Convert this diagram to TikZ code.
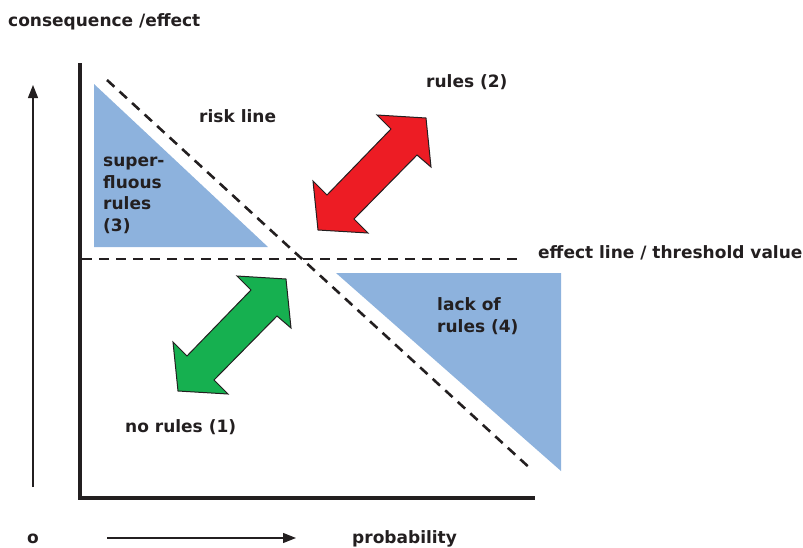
\documentclass[tikz,border=0pt]{standalone}
\usepackage{fontspec}
\setmainfont{DejaVu Sans}
\usepackage{tikz}
\usetikzlibrary{arrows.meta}

\definecolor{rulered}{RGB}{237,28,36}
\definecolor{rulegreen}{RGB}{22,176,80}
\definecolor{zoneblue}{RGB}{141,178,221}
\definecolor{inkgray}{RGB}{35,31,32}

\tikzset{
  lbl/.style={text=inkgray,font=\fontsize{17}{21.5}\selectfont\bfseries,inner sep=0pt,align=left},
  dashline/.style={draw=inkgray,line width=2.6pt,dash pattern=on 10pt off 7pt},
  zone/.style={fill=zoneblue,draw=none},
  bigarrow/.style={draw=inkgray,line width=1pt,line join=miter},
  thinarrow/.style={draw=inkgray,line width=1.3pt,-{Triangle[length=13pt,width=10pt]}}
}

% shape of the double arrow (pixel coords)
\newcommand{\dblarrow}{(178,391) -- (173,342) -- (187,356) -- (251,290) -- (237,276)
  -- (286,279) -- (291,328) -- (277,316) -- (214,380) -- (228,394) -- cycle}

\begin{document}
\begin{tikzpicture}[x=1pt,y=-1pt]
  \useasboundingbox (0,0) rectangle (803,547);

  % zones
  \fill[zone] (94,84) -- (94,247) -- (268,247) -- cycle;
  \fill[zone] (336,273) -- (561,273) -- (561,471) -- cycle;

  % risk line and effect line
  \coordinate (r1) at (107,80);
  \coordinate (r2) at (532,470);
  \coordinate (e1) at (82,259);
  \coordinate (e2) at (522,259);
  \draw[dashline] (r1) to (r2);
  \draw[dashline] (e1) to (e2);

  % axes
  \coordinate (top) at (80,63);
  \coordinate (origin) at (80,498);
  \coordinate (right) at (535,498);
  \draw[draw=inkgray,line width=4.5pt] (top) to (origin) to (right);

  % arrows
  \filldraw[bigarrow,fill=rulegreen] \dblarrow;
  \filldraw[bigarrow,fill=rulered,shift={(140,-161)}] \dblarrow;

  \coordinate (ya) at (33,487);
  \coordinate (yb) at (33,85);
  \coordinate (xa) at (107,538);
  \coordinate (xb) at (296,538);
  \draw[thinarrow] (ya) to (yb);
  \draw[thinarrow] (xa) to (xb);

  % labels (multi-line ones sit on the base of their last line)
  \node[lbl,anchor=base west] (cons) at (8,26) {consequence /effect};
  \node[lbl,anchor=base west] (risk) at (199,122) {risk line};
  \node[lbl,anchor=base west] (two) at (426,87) {rules (2)};
  \node[lbl,anchor=base west] (three) at (103,231) {super-\\fluous\\rules\\(3)};
  \node[lbl,anchor=base west] (eff) at (538,258) {effect line / threshold value};
  \node[lbl,anchor=base west] (four) at (437,332) {lack of\\rules (4)};
  \node[lbl,anchor=base west] (one) at (125,432) {no rules (1)};
  \node[lbl,anchor=base west] (o) at (27,543) {o};
  \node[lbl,anchor=base west] (prob) at (352,543) {probability};
\end{tikzpicture}
\end{document}
